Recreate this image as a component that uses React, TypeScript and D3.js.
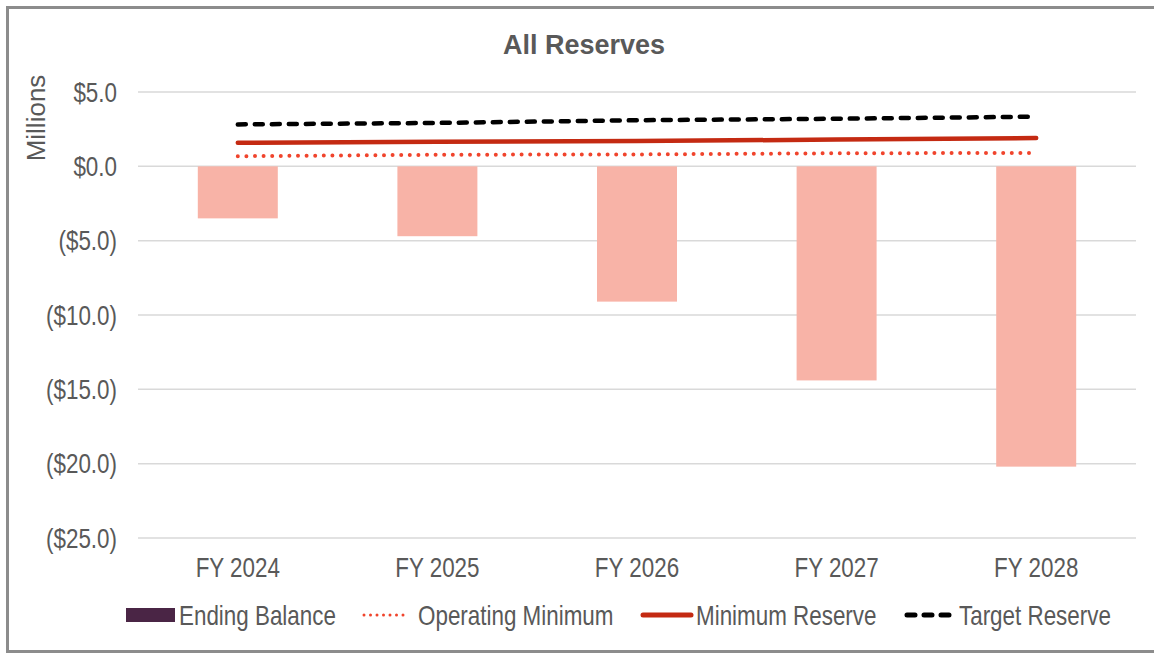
import { useRef, useEffect } from "react";
import * as d3 from "d3";

const years = ["FY 2024", "FY 2025", "FY 2026", "FY 2027", "FY 2028"];
const endingBalance = [-3.5, -4.7, -9.1, -14.4, -20.2];
const operatingMinimum = [0.68, 0.78, 0.8, 0.88, 0.9];
const minimumReserve = [1.58, 1.66, 1.7, 1.8, 1.9];
const targetReserve = [2.82, 2.92, 3.1, 3.2, 3.34];
const yTicks = [5, 0, -5, -10, -15, -20, -25];

const W = 1154;
const H = 654;
const M = { top: 92, left: 138, right: 1136, bottom: 538 };
const FONT = "'Liberation Sans', Arial, sans-serif";
const TXT = "#595959";
const SX = 0.83; // condensed look of the original font

export default function App() {
  const svgRef = useRef<SVGSVGElement>(null);

  useEffect(() => {
    if (!svgRef.current) return;
    const svg = d3.select(svgRef.current);
    svg.selectAll("*").remove();

    svg.append("rect")
      .attr("width", W).attr("height", H).attr("fill", "#fff");

    // outer frame
    svg.append("rect")
      .attr("x", 7.5).attr("y", 7.5)
      .attr("width", 1160).attr("height", 644)
      .attr("fill", "none").attr("stroke", "#8c8c8c").attr("stroke-width", 3);

    const x = d3.scaleBand().domain(years).range([M.left, M.right]).padding(0);
    const y = d3.scaleLinear().domain([-25, 5]).range([M.bottom, M.top]);
    const fmt = (v: number) => v < 0 ? `($${Math.abs(v).toFixed(1)})` : `$${v.toFixed(1)}`;

    // grid + y labels
    svg.append("g").selectAll("line").data(yTicks).join("line")
      .attr("x1", M.left).attr("x2", M.right)
      .attr("y1", d => y(d)).attr("y2", d => y(d))
      .attr("stroke", "#d9d9d9").attr("stroke-width", 1.5);

    svg.append("g").selectAll("text").data(yTicks).join("text")
      .attr("transform", d => `translate(117,${y(d)}) scale(${SX},1)`)
      .attr("dy", "0.36em")
      .attr("text-anchor", "end")
      .attr("font-family", FONT).attr("font-size", 27).attr("fill", TXT)
      .text(d => fmt(d));

    // bars
    const bw = 80;
    svg.append("g").selectAll("rect").data(endingBalance).join("rect")
      .attr("x", (_, i) => x(years[i])! + x.bandwidth() / 2 - bw / 2)
      .attr("width", bw)
      .attr("y", d => y(Math.max(0, d)))
      .attr("height", d => Math.abs(y(d) - y(0)))
      .attr("fill", "#f8b3a7");

    const line = d3.line<number>()
      .x((_, i) => x(years[i])! + x.bandwidth() / 2)
      .y(d => y(d));

    svg.append("path").datum(operatingMinimum)
      .attr("d", line).attr("fill", "none")
      .attr("stroke", "#f0442c").attr("stroke-width", 4)
      .attr("stroke-linecap", "round").attr("stroke-dasharray", "0 8.6");

    svg.append("path").datum(minimumReserve)
      .attr("d", line).attr("fill", "none")
      .attr("stroke", "#c42a12").attr("stroke-width", 4.5)
      .attr("stroke-linecap", "round");

    svg.append("path").datum(targetReserve)
      .attr("d", line).attr("fill", "none")
      .attr("stroke", "#000").attr("stroke-width", 4.5)
      .attr("stroke-linecap", "round").attr("stroke-dasharray", "8 9");

    // x labels
    svg.append("g").selectAll("text").data(years).join("text")
      .attr("transform", d => `translate(${x(d)! + x.bandwidth() / 2},577) scale(${SX},1)`)
      .attr("text-anchor", "middle")
      .attr("font-family", FONT).attr("font-size", 27).attr("fill", TXT)
      .text(d => d);

    // title
    svg.append("text")
      .attr("x", 584).attr("y", 54)
      .attr("text-anchor", "middle")
      .attr("font-family", FONT)
      .attr("font-weight", "bold").attr("font-size", 27).attr("fill", TXT)
      .text("All Reserves");

    // y axis title
    svg.append("text")
      .attr("transform", "translate(45,118) rotate(-90)")
      .attr("text-anchor", "middle")
      .attr("font-family", FONT)
      .attr("font-size", 26).attr("fill", TXT)
      .text("Millions");

    // legend
    const ly = 615;
    const leg = svg.append("g");
    leg.append("rect").attr("x", 126).attr("y", 608).attr("width", 49).attr("height", 14).attr("fill", "#4a2545");
    leg.append("line").attr("x1", 364).attr("x2", 408).attr("y1", ly).attr("y2", ly)
      .attr("stroke", "#f0442c").attr("stroke-width", 3)
      .attr("stroke-linecap", "round").attr("stroke-dasharray", "0 6.5");
    leg.append("line").attr("x1", 643).attr("x2", 691).attr("y1", ly).attr("y2", ly)
      .attr("stroke", "#c42a12").attr("stroke-width", 5)
      .attr("stroke-linecap", "round");
    leg.append("line").attr("x1", 907).attr("x2", 949).attr("y1", ly).attr("y2", ly)
      .attr("stroke", "#000").attr("stroke-width", 5)
      .attr("stroke-linecap", "round").attr("stroke-dasharray", "8 9");

    const labels = [
      { x: 179, t: "Ending Balance" },
      { x: 418, t: "Operating Minimum" },
      { x: 696, t: "Minimum Reserve" },
      { x: 959, t: "Target Reserve" },
    ];
    leg.selectAll("text").data(labels).join("text")
      .attr("transform", d => `translate(${d.x},${ly}) scale(${SX},1)`)
      .attr("dy", "0.36em")
      .attr("font-family", FONT).attr("font-size", 27).attr("fill", TXT)
      .text(d => d.t);
  }, []);

  return (
    <div style={{ position: "absolute", left: 0, top: 0 }}>
      <svg ref={svgRef} width={W} height={H} style={{ display: "block" }} />
    </div>
  );
}
